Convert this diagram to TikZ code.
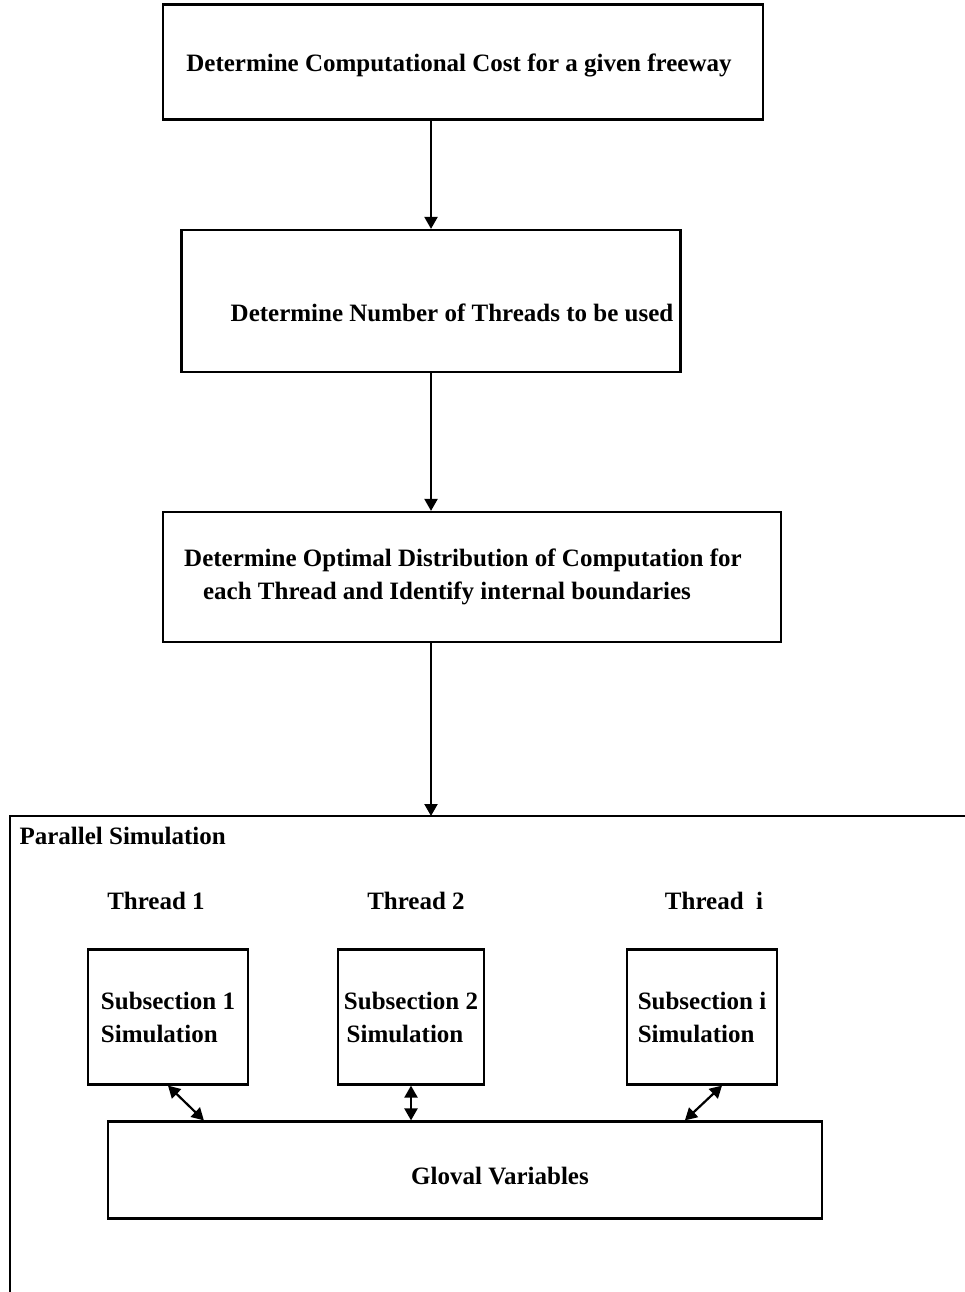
\documentclass[tikz,border=0pt]{standalone}
\usepackage{fontspec}
\setmainfont{Liberation Serif}
\usetikzlibrary{arrows.meta,positioning}

\begin{document}
\begin{tikzpicture}[
		x=1pt, y=-1pt,
		font=\fontsize{25}{33}\selectfont\bfseries,
		stepbox/.style={
			draw,
			line width=2.2pt,
			rectangle,
			align=center,
			inner sep=0pt,
		},
		subbox/.style={
			stepbox,
			align=left,
			minimum width=150pt,
			minimum height=135pt,
		},
		link/.style={
			-{Triangle[length=12pt,width=13pt]},
			line width=2.2pt,
		},
		duallink/.style={
			{Triangle[length=12pt,width=13pt]}-{Triangle[length=12pt,width=13pt]},
			line width=2.2pt,
		},
	]
	\useasboundingbox (0,0) rectangle (965,1292);

	\node [stepbox, minimum width=600pt, minimum height=115pt] (cost) at (463,62)
		{\raisebox{-10pt}[0pt][0pt]{\hspace*{-8pt}Determine Computational Cost for a given freeway}};
	\node [stepbox, minimum width=499pt, minimum height=142pt] (nthreads) at (431,301)
		{\raisebox{-20pt}[0pt][0pt]{\hspace*{42pt}Determine Number of Threads to be used}};
	\node [stepbox, minimum width=618pt, minimum height=130pt] (distrib) at (472,577)
		{\raisebox{-6pt}{Determine Optimal Distribution of Computation for\hspace*{18pt}}\\
		\raisebox{-6pt}{each Thread and Identify internal boundaries\hspace*{50pt}}};

	% parallel simulation frame (cut off at right and bottom)
	\coordinate (ftop) at (10,816);
	\draw [line width=2.2pt] (10,1292) -- (ftop) -- (965,816);
	\node [anchor=west] (par) at (16,836) {Parallel Simulation};

	\node (th1) at (156,901) {Thread 1};
	\node (th2) at (416,901) {Thread 2};
	\node (thi) at (714,901) {Thread\ \ i};

	\node [subbox, minimum width=160pt] (sub1) at (168,1017)
		{Subsection 1\\Simulation};
	\node [subbox, minimum width=146pt, align=center] (sub2) at (411,1017)
		{Subsection 2\\Simulation\hspace*{12pt}};
	\node [subbox] (subi) at (702,1017)
		{Subsection i\\Simulation\hspace*{6pt}};

	\node [stepbox, minimum width=714pt, minimum height=97pt] (glob) at (465,1170)
		{\raisebox{-14pt}[0pt][0pt]{\hspace*{70pt}Gloval Variables}};

	\draw [link] (cost.south -| nthreads.north) -- (nthreads.north);
	\draw [link] (nthreads.south) -- (nthreads.south |- distrib.north);
	\draw [link] (nthreads.south |- distrib.south) -- (nthreads.south |- ftop);

	\draw [duallink] (sub1.south) -- ([xshift=97pt]glob.north west);
	\draw [duallink] (sub2.south) -- (sub2.south |- glob.north);
	\draw [duallink] ([xshift=20pt]subi.south) -- ([xshift=578pt]glob.north west);

\end{tikzpicture}
\end{document}
